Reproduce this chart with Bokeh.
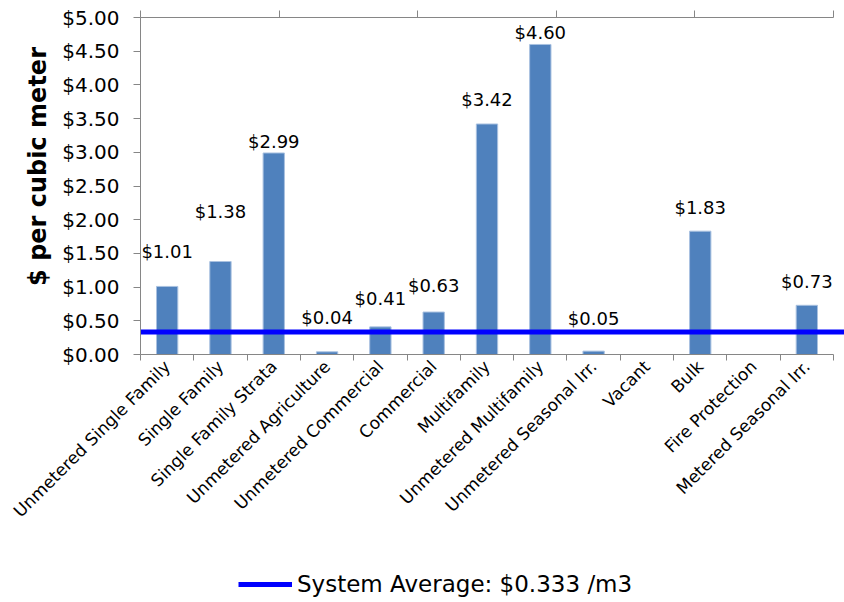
import math

from bokeh.core.properties import value
from bokeh.embed import file_html
from bokeh.models import (ColumnDataSource, FixedTicker, Label, Legend,
                          LegendItem, LinearAxis, NumeralTickFormatter,
                          Range1d)
from bokeh.plotting import figure
from bokeh.resources import INLINE

# Unit cost of water by customer class
categories = [
    "Unmetered Single Family", "Single Family", "Single Family Strata",
    "Unmetered Agriculture", "Unmetered Commercial", "Commercial",
    "Multifamily", "Unmetered Multifamily", "Unmetered Seasonal Irr.",
    "Vacant", "Bulk", "Fire Protection", "Metered Seasonal Irr.",
]
cost_per_m3 = [1.01, 1.38, 2.99, 0.04, 0.41, 0.63, 3.42, 4.60, 0.05,
               None, 1.83, None, 0.73]
system_average = 0.333
y_ticks = [0.0, 0.5, 1.0, 1.5, 2.0, 2.5, 3.0, 3.5, 4.0, 4.5, 5.0]

# how far (px) each value label sits above its bar
label_lift = [35, 50, 11, 34, 28, 27, 24, 12, 33, 0, 24, 0, 24]

FONT = "DejaVu Sans"
AXIS_GREY = "#868686"
GRID_GREY = "#C0C0C0"
BAR_BLUE = "#4F81BD"

n = len(categories)
# The frame covers the whole page; the axes are pinned to the edges of the
# 0..5 / 0..n plotting box so their labels, the axis title and the legend
# can sit in the space around the bars.
slot_px = 693 / n
x_start = -140 / slot_px
x_end = 704 / slot_px
px_per_dollar = 67.4
y_max = 354 / px_per_dollar
y_min = -(602 - 354) / px_per_dollar

p = figure(
    width=844, height=602,
    x_range=Range1d(x_start, x_end), y_range=Range1d(y_min, y_max),
    output_backend="svg", toolbar_location=None,
    min_border_left=0, min_border_right=0,
    min_border_top=0, min_border_bottom=0,
    x_axis_type=None, y_axis_type=None,
)
p.outline_line_color = None
p.background_fill_color = "white"
p.border_fill_color = "white"
p.xgrid.visible = False

centers = [i + 0.5 for i in range(n)]

# category axis: ticks between categories, names under each bar
xaxis = LinearAxis(
    ticker=FixedTicker(ticks=centers, minor_ticks=list(range(n + 1))),
    major_label_overrides={c: name for c, name in zip(centers, categories)},
    bounds=(0, n),
    fixed_location=0,
)
xaxis.axis_line_color = AXIS_GREY
xaxis.major_tick_line_color = None
xaxis.minor_tick_line_color = AXIS_GREY
xaxis.minor_tick_out = 6
xaxis.minor_tick_in = 0
xaxis.major_label_orientation = math.pi / 4
xaxis.major_label_text_font = FONT
xaxis.major_label_text_font_size = "17px"
xaxis.major_label_text_color = "black"
xaxis.major_label_standoff = 3
p.add_layout(xaxis, "below")

# top secondary axis: tick marks only
top_axis = LinearAxis(
    ticker=FixedTicker(ticks=[], minor_ticks=[n * k / 5 for k in range(6)]),
    bounds=(0, n),
    fixed_location=5,
)
top_axis.axis_line_color = AXIS_GREY
top_axis.minor_tick_line_color = AXIS_GREY
top_axis.minor_tick_out = 7
top_axis.minor_tick_in = 0
top_axis.major_label_standoff = 0
p.add_layout(top_axis, "above")

# value axis
yaxis = LinearAxis(
    ticker=FixedTicker(ticks=y_ticks, minor_ticks=[]),
    formatter=NumeralTickFormatter(format="$0.00"),
    bounds=(0, 5),
    fixed_location=0,
)
yaxis.axis_line_color = AXIS_GREY
yaxis.major_tick_line_color = AXIS_GREY
yaxis.major_tick_out = 7
yaxis.major_tick_in = 0
yaxis.major_label_text_font = FONT
yaxis.major_label_text_font_size = "20px"
yaxis.major_label_text_color = "black"
yaxis.major_label_standoff = 14
p.add_layout(yaxis, "left")

# value-axis title
p.add_layout(Label(x=-1.93, y=2.79, text="$ per cubic meter",
                   angle=math.pi / 2, text_align="center",
                   text_baseline="middle", text_font=FONT,
                   text_font_size="24px", text_font_style="bold",
                   text_color="black"))

p.ygrid.ticker = FixedTicker(ticks=y_ticks, minor_ticks=[])
p.ygrid.grid_line_color = GRID_GREY
p.ygrid.grid_line_width = 1.5
p.ygrid.cross_bounds = (0, n)

# bars and their value labels (classes without a rate get neither)
rows = [i for i, v in enumerate(cost_per_m3) if v is not None]
bars = ColumnDataSource(dict(
    x=[centers[i] for i in rows],
    top=[cost_per_m3[i] for i in rows],
    label=["${:.2f}".format(cost_per_m3[i]) for i in rows],
    lift=[-label_lift[i] for i in rows],
))
p.vbar(x="x", top="top", bottom=0, width=0.4, source=bars,
       fill_color=BAR_BLUE, line_color="#A9C1E0", line_width=1)
p.text(x="x", y="top", text="label", y_offset="lift", source=bars,
       text_align="center", text_baseline="middle",
       text_font=value(FONT), text_font_size="18px", text_color="black")

# system-wide average
avg_line = p.line(x=[0, x_end], y=[system_average, system_average],
                  line_color="#0000FF", line_width=5)

legend = Legend(
    items=[LegendItem(label="System Average: ${:.3f} /m3".format(system_average),
                      renderers=[avg_line])],
    location=(238, 5),
    orientation="horizontal",
    glyph_width=54, glyph_height=20,
    padding=0, margin=0, spacing=0, label_standoff=5,
    border_line_color=None, background_fill_alpha=0,
    label_text_font=FONT, label_text_font_size="23px",
    label_text_color="black",
)
p.add_layout(legend)

open("out.html", "w").write(file_html(p, INLINE))
